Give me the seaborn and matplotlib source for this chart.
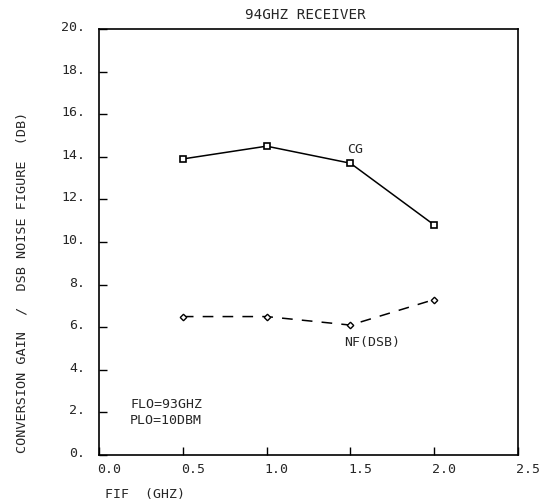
import matplotlib
matplotlib.use("Agg")
import matplotlib.pyplot as plt
import matplotlib.transforms as mtransforms
import seaborn as sns
import pandas as pd

fif = [0.5, 1.0, 1.5, 2.0]
cg = [13.9, 14.5, 13.7, 10.8]
nf = [6.5, 6.5, 6.1, 7.3]
x_ticks = [0.0, 0.5, 1.0, 1.5, 2.0, 2.5]
x_tick_labels = ["0.0", "0.5", "1.0", "1.5", "2.0", "2.5"]
y_ticks = [0, 2, 4, 6, 8, 10, 12, 14, 16, 18, 20]
y_tick_labels = ["0.", "2.", "4.", "6.", "8.", "10.", "12.", "14.", "16.", "18.", "20."]

sns.set_theme(style="white")
plt.rcParams["font.family"] = ["DejaVu Sans Mono"]

df = pd.DataFrame({"FIF": fif * 2, "val": cg + nf,
                   "series": ["CG"] * 4 + ["NF"] * 4})

fig = plt.figure(figsize=(5.51, 5.02), dpi=100)
ax = fig.add_axes([0.1797, 0.0916, 0.7604, 0.8486])

sns.lineplot(data=df[df.series == "CG"], x="FIF", y="val", ax=ax, color="black",
             lw=1.1, marker="s", markersize=4.5, markerfacecolor="white",
             markeredgecolor="black", markeredgewidth=1.2)
sns.lineplot(data=df[df.series == "NF"], x="FIF", y="val", ax=ax, color="black",
             lw=1.1, marker="D", markersize=3.3, markerfacecolor="white",
             markeredgecolor="black", markeredgewidth=1.0, linestyle=(0, (7, 6)))

ax.set_xlim(0, 2.5)
ax.set_ylim(0, 20)
ax.set_xticks(x_ticks)
ax.set_xticklabels(x_tick_labels, fontsize=9.5, ha="left")
ax.set_yticks(y_ticks)
ax.set_yticklabels(y_tick_labels, fontsize=9.5)
ax.tick_params(axis="both", direction="in", length=6, width=1, color="black",
               bottom=True, left=True, top=False, right=False)
ax.tick_params(axis="x", pad=5)
ax.tick_params(axis="y", pad=10)
for lbl in ax.get_yticklabels():
    lbl.set_transform(lbl.get_transform() + mtransforms.ScaledTranslation(0, 4 / 100, fig.dpi_scale_trans))
for lbl in ax.get_xticklabels():
    lbl.set_transform(lbl.get_transform() + mtransforms.ScaledTranslation(-2 / 100, 0, fig.dpi_scale_trans))
for s in ax.spines.values():
    s.set_color("black")
    s.set_linewidth(1.2)

ax.set_xlabel("")
ax.set_ylabel("")
fig.text(0.19, 0.014, "FIF  (GHZ)", fontsize=9.5, ha="left", va="center")
fig.text(0.04, 0.438, "CONVERSION GAIN  /  DSB NOISE FIGURE  (DB)", fontsize=9.7,
         rotation=90, ha="center", va="center")
fig.text(0.5535, 0.970, "94GHZ RECEIVER", fontsize=10.3, ha="center", va="center")

ax.text(1.53, 14.37, "CG", fontsize=9.5, ha="center", va="center")
ax.text(1.63, 5.35, "NF(DSB)", fontsize=9.5, ha="center", va="center")
ax.text(0.185, 2.4, "FLO=93GHZ", fontsize=9.5, ha="left", va="center")
ax.text(0.185, 1.65, "PLO=10DBM", fontsize=9.5, ha="left", va="center")

fig.savefig("out.png", dpi=100, facecolor="white")
